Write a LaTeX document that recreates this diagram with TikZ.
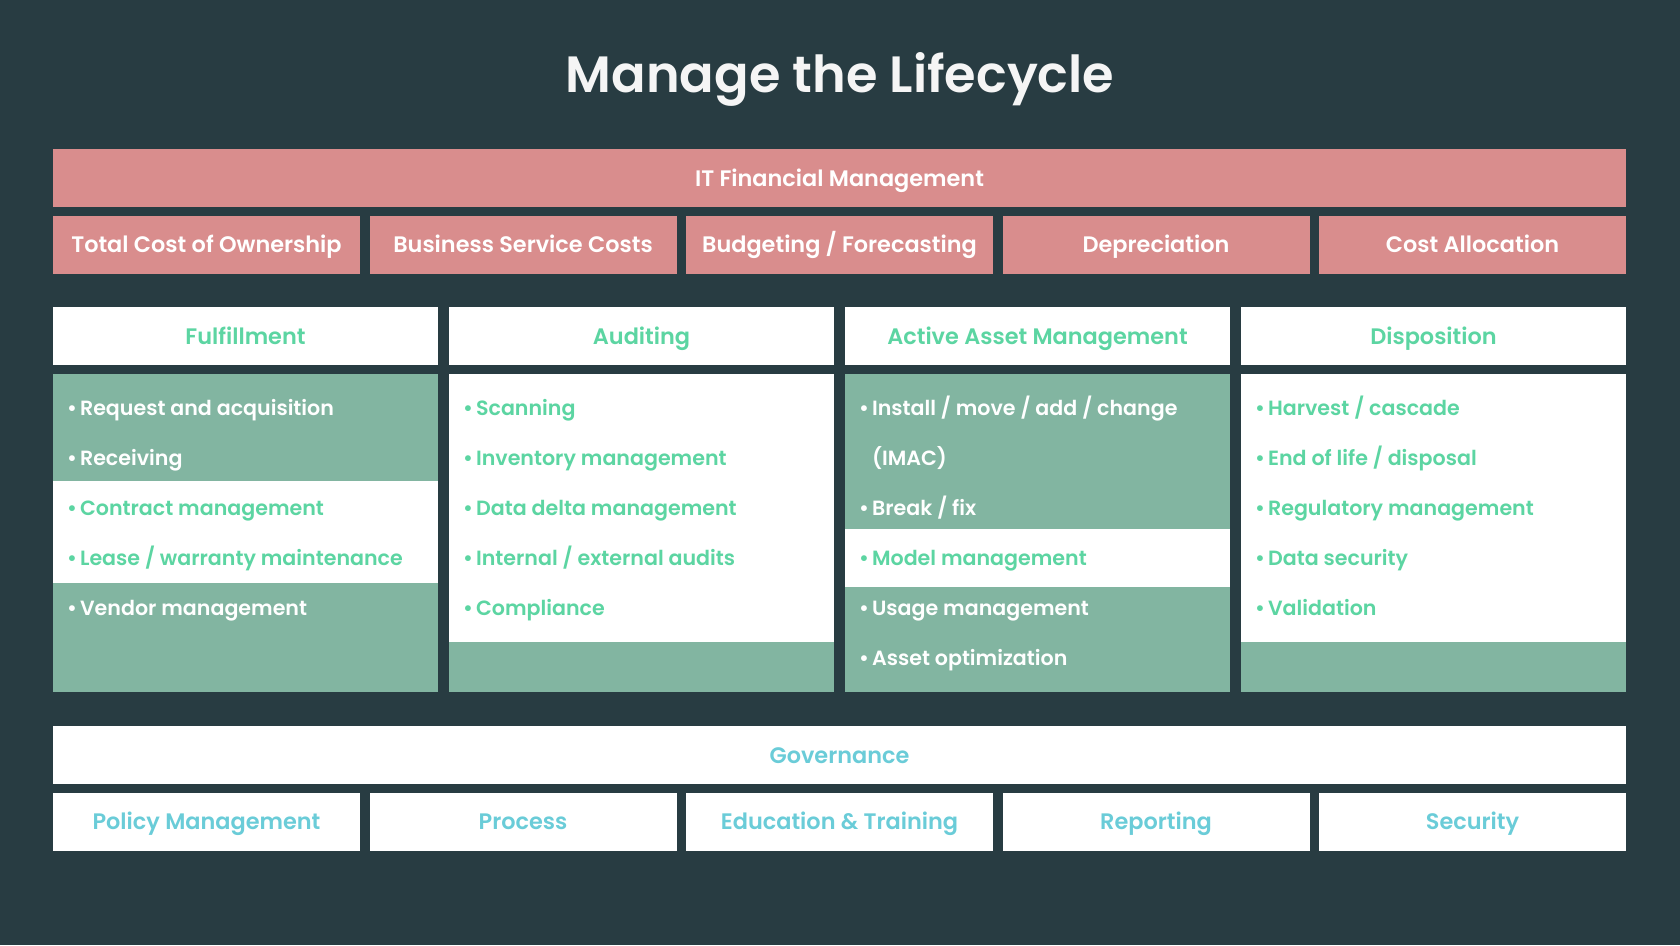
\documentclass[tikz,border=0pt]{standalone}
\usepackage{fontspec}
\setmainfont{Poppins}[UprightFont={* Medium}, BoldFont={* SemiBold}]
\usetikzlibrary{positioning}
\definecolor{slate}{HTML}{283C42}
\definecolor{rosebar}{HTML}{D98D8D}
\definecolor{sage}{HTML}{82B5A1}
\definecolor{mint}{HTML}{5CD5A2}
\definecolor{aqua}{HTML}{6ACCD8}

\tikzset{
	box/.style={minimum height=58pt, inner sep=0pt, outer sep=0pt, text height=16pt, text depth=0pt, font=\bfseries\fontsize{22.4}{26}\selectfont},
	finbar/.style={box, fill=rosebar, text=white, minimum width=1573pt},
	finbox/.style={box, fill=rosebar, text=white, minimum width=307pt},
	stagehead/.style={box, fill=white, text=mint, minimum width=385pt},
	govbar/.style={box, fill=white, text=aqua, minimum width=1573pt},
	govbox/.style={box, fill=white, text=aqua, minimum width=307pt},
	item/.style={anchor=base west, inner sep=0pt, font=\bfseries\fontsize{20.6}{24}\selectfont},
	onsage/.style={item, text=white},
	onwhite/.style={item, text=mint}
}
\newcommand{\dotmark}{•\hspace{3pt}}

\begin{document}
\begin{tikzpicture}[x=1pt, y=-1pt]

	\fill[slate] (0,0) rectangle (1680,945);
	\node[anchor=base, text=white!96!black, inner sep=0pt, font=\bfseries\fontsize{51}{56}\selectfont] (title) at (840,92.3) {Manage the Lifecycle};

	% finance rows
	\node[finbar] (itfm) at (839.5,178) {IT Financial Management};
	\node[finbox] (tco) at (206.5,244.7) {Total Cost of Ownership};
	\node[finbox, right=9.5pt of tco] (bsc) {Business Service Costs};
	\node[finbox, right=9.5pt of bsc] (bud) {Budgeting / Forecasting};
	\node[finbox, right=9.5pt of bud] (dep) {Depreciation};
	\node[finbox, right=9.5pt of dep] (cal) {Cost Allocation};

	% stage headers
	\node[stagehead] (hd1) at (245.5,336.3) {Fulfillment};
	\node[stagehead, right=11pt of hd1] (hd2) {Auditing};
	\node[stagehead, right=11pt of hd2] (hd3) {Active Asset Management};
	\node[stagehead, right=11pt of hd3] (hd4) {Disposition};

	% stage bodies
	\fill[white] (53,374) rectangle (438,692);
	\fill[sage] (53,374) rectangle (438,480.7);
	\fill[sage] (53,582.7) rectangle (438,692);
	\fill[white] (449,374) rectangle (834,692);
	\fill[sage] (449,642) rectangle (834,692);
	\fill[white] (845,374) rectangle (1230,692);
	\fill[sage] (845,374) rectangle (1230,528.7);
	\fill[sage] (845,587.3) rectangle (1230,692);
	\fill[white] (1241,374) rectangle (1626,692);
	\fill[sage] (1241,642) rectangle (1626,692);

	\foreach \txt/\sty [count=\k] in {Request and acquisition/onsage, Receiving/onsage, Contract management/onwhite, {Lease / warranty maintenance}/onwhite, Vendor management/onsage}
		\node[\sty] (ful\k) at (67,365+50*\k) {\dotmark\txt};
	\foreach \txt [count=\k] in {Scanning, Inventory management, Data delta management, {Internal / external audits}, Compliance}
		\node[onwhite] (aud\k) at (463,365+50*\k) {\dotmark\txt};
	\foreach \txt/\sty [count=\k] in {{Install / move / add / change}/onsage, {\phantom{\dotmark}(IMAC)}/onsage, {Break / fix}/onsage, Model management/onwhite, Usage management/onsage, Asset optimization/onsage}
		\node[\sty] (aam\k) at (859,365+50*\k) {\ifnum\k=2\else\dotmark\fi\txt};
	\foreach \txt [count=\k] in {{Harvest / cascade}, {End of life / disposal}, Regulatory management, Data security, Validation}
		\node[onwhite] (dis\k) at (1255,365+50*\k) {\dotmark\txt};

	% governance rows
	\node[govbar] (gov) at (839.5,755) {Governance};
	\node[govbox] (pol) at (206.5,821.5) {Policy Management};
	\node[govbox, right=9.5pt of pol] (pro) {Process};
	\node[govbox, right=9.5pt of pro] (edu) {Education \& Training};
	\node[govbox, right=9.5pt of edu] (rep) {Reporting};
	\node[govbox, right=9.5pt of rep] (sec) {Security};

\end{tikzpicture}
\end{document}
